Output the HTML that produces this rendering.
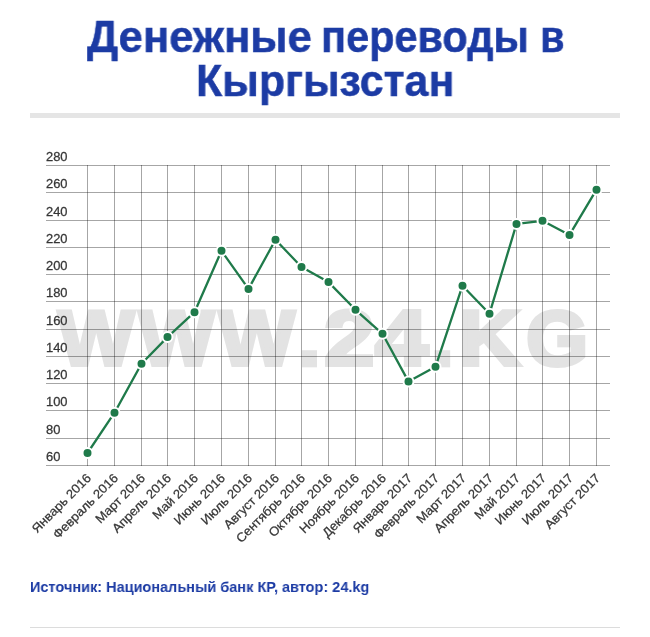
<!DOCTYPE html>
<html><head><meta charset="utf-8">
<style>
html,body{margin:0;padding:0;background:#fff;}
body{width:650px;height:637px;position:relative;overflow:hidden;font-family:"Liberation Sans",sans-serif;}
.w{position:absolute;color:#1c3ba4;font-weight:bold;font-size:45px;line-height:45px;white-space:nowrap;-webkit-text-stroke:0.5px #1c3ba4;transform-origin:0 0;will-change:transform;}
#bar{position:absolute;left:30px;top:113px;width:590px;height:5px;background:#e5e5e5;}
#src{position:absolute;left:29.5px;top:578px;color:#1c3ba4;font-weight:bold;font-size:15.4px;line-height:18px;white-space:nowrap;transform:scaleX(0.942);transform-origin:0 0;}
#bl{position:absolute;left:30px;top:627px;width:590px;height:1px;background:#dcdcdc;}
svg{position:absolute;left:0;top:0;will-change:transform;}
#src{will-change:transform;}
svg text{font-family:"Liberation Sans",sans-serif;}
</style></head><body>
<div class="w" style="left:86.6px;top:14px;transform:scaleX(0.9700)">Денежные</div>
<div class="w" style="left:321.41px;top:14px;transform:scaleX(0.9208)">переводы</div>
<div class="w" style="left:539.6px;top:14px;transform:scaleX(0.8900)">в</div>
<div class="w" style="left:196.3px;top:58px;transform:scaleX(0.9530)">Кыргызстан</div>
<div id="bar"></div>
<svg width="650" height="637" viewBox="0 0 650 637">
<text transform="translate(58.20,365) scale(1.046,1)" font-weight="bold" font-size="77" fill="#e3e3e3" stroke="#e3e3e3" stroke-width="4" stroke-linejoin="miter" stroke-miterlimit="3">W</text>
<text transform="translate(139.00,365) scale(1.035,1)" font-weight="bold" font-size="77" fill="#e3e3e3" stroke="#e3e3e3" stroke-width="4" stroke-linejoin="miter" stroke-miterlimit="3">W</text>
<text transform="translate(219.00,365) scale(1.042,1)" font-weight="bold" font-size="77" fill="#e3e3e3" stroke="#e3e3e3" stroke-width="4" stroke-linejoin="miter" stroke-miterlimit="3">W</text>
<text transform="translate(298.65,365) scale(1.009,1.09)" font-weight="bold" font-size="77" fill="#e3e3e3" stroke="#e3e3e3" stroke-width="4" stroke-linejoin="miter" stroke-miterlimit="3">.</text>
<text transform="translate(324.30,365) scale(1.168,1.0)" font-weight="bold" font-size="77" fill="#e3e3e3" stroke="#e3e3e3" stroke-width="4" stroke-linejoin="miter" stroke-miterlimit="3">2</text>
<text transform="translate(375.27,365) scale(1.232,1)" font-weight="bold" font-size="77" fill="#e3e3e3" stroke="#e3e3e3" stroke-width="4" stroke-linejoin="miter" stroke-miterlimit="3">4</text>
<text transform="translate(431.27,365) scale(1.045,1.09)" font-weight="bold" font-size="77" fill="#e3e3e3" stroke="#e3e3e3" stroke-width="4" stroke-linejoin="miter" stroke-miterlimit="3">.</text>
<text transform="translate(459.22,365) scale(1.096,1)" font-weight="bold" font-size="77" fill="#e3e3e3" stroke="#e3e3e3" stroke-width="4" stroke-linejoin="miter" stroke-miterlimit="3">K</text>
<text transform="translate(526.20,365) scale(1.033,1.0)" font-weight="bold" font-size="77" fill="#e3e3e3" stroke="#e3e3e3" stroke-width="4" stroke-linejoin="miter" stroke-miterlimit="3">G</text>
<line x1="46" x2="610" y1="165.5" y2="165.5" stroke="rgba(0,0,0,0.35)" stroke-width="1"/>
<line x1="46" x2="610" y1="192.5" y2="192.5" stroke="rgba(0,0,0,0.35)" stroke-width="1"/>
<line x1="46" x2="610" y1="220.5" y2="220.5" stroke="rgba(0,0,0,0.35)" stroke-width="1"/>
<line x1="46" x2="610" y1="247.5" y2="247.5" stroke="rgba(0,0,0,0.35)" stroke-width="1"/>
<line x1="46" x2="610" y1="274.5" y2="274.5" stroke="rgba(0,0,0,0.35)" stroke-width="1"/>
<line x1="46" x2="610" y1="301.5" y2="301.5" stroke="rgba(0,0,0,0.35)" stroke-width="1"/>
<line x1="46" x2="610" y1="329.5" y2="329.5" stroke="rgba(0,0,0,0.35)" stroke-width="1"/>
<line x1="46" x2="610" y1="356.5" y2="356.5" stroke="rgba(0,0,0,0.35)" stroke-width="1"/>
<line x1="46" x2="610" y1="383.5" y2="383.5" stroke="rgba(0,0,0,0.35)" stroke-width="1"/>
<line x1="46" x2="610" y1="410.5" y2="410.5" stroke="rgba(0,0,0,0.35)" stroke-width="1"/>
<line x1="46" x2="610" y1="438.5" y2="438.5" stroke="rgba(0,0,0,0.35)" stroke-width="1"/>
<line x1="46" x2="610" y1="465.5" y2="465.5" stroke="rgba(0,0,0,0.35)" stroke-width="1"/>
<line x1="87.5" x2="87.5" y1="165.0" y2="466.0" stroke="rgba(0,0,0,0.35)" stroke-width="1"/>
<line x1="114.5" x2="114.5" y1="165.0" y2="466.0" stroke="rgba(0,0,0,0.35)" stroke-width="1"/>
<line x1="141.5" x2="141.5" y1="165.0" y2="466.0" stroke="rgba(0,0,0,0.35)" stroke-width="1"/>
<line x1="167.5" x2="167.5" y1="165.0" y2="466.0" stroke="rgba(0,0,0,0.35)" stroke-width="1"/>
<line x1="194.5" x2="194.5" y1="165.0" y2="466.0" stroke="rgba(0,0,0,0.35)" stroke-width="1"/>
<line x1="221.5" x2="221.5" y1="165.0" y2="466.0" stroke="rgba(0,0,0,0.35)" stroke-width="1"/>
<line x1="248.5" x2="248.5" y1="165.0" y2="466.0" stroke="rgba(0,0,0,0.35)" stroke-width="1"/>
<line x1="275.5" x2="275.5" y1="165.0" y2="466.0" stroke="rgba(0,0,0,0.35)" stroke-width="1"/>
<line x1="301.5" x2="301.5" y1="165.0" y2="466.0" stroke="rgba(0,0,0,0.35)" stroke-width="1"/>
<line x1="328.5" x2="328.5" y1="165.0" y2="466.0" stroke="rgba(0,0,0,0.35)" stroke-width="1"/>
<line x1="355.5" x2="355.5" y1="165.0" y2="466.0" stroke="rgba(0,0,0,0.35)" stroke-width="1"/>
<line x1="382.5" x2="382.5" y1="165.0" y2="466.0" stroke="rgba(0,0,0,0.35)" stroke-width="1"/>
<line x1="408.5" x2="408.5" y1="165.0" y2="466.0" stroke="rgba(0,0,0,0.35)" stroke-width="1"/>
<line x1="435.5" x2="435.5" y1="165.0" y2="466.0" stroke="rgba(0,0,0,0.35)" stroke-width="1"/>
<line x1="462.5" x2="462.5" y1="165.0" y2="466.0" stroke="rgba(0,0,0,0.35)" stroke-width="1"/>
<line x1="489.5" x2="489.5" y1="165.0" y2="466.0" stroke="rgba(0,0,0,0.35)" stroke-width="1"/>
<line x1="516.5" x2="516.5" y1="165.0" y2="466.0" stroke="rgba(0,0,0,0.35)" stroke-width="1"/>
<line x1="542.5" x2="542.5" y1="165.0" y2="466.0" stroke="rgba(0,0,0,0.35)" stroke-width="1"/>
<line x1="569.5" x2="569.5" y1="165.0" y2="466.0" stroke="rgba(0,0,0,0.35)" stroke-width="1"/>
<line x1="596.5" x2="596.5" y1="165.0" y2="466.0" stroke="rgba(0,0,0,0.35)" stroke-width="1"/>
<text transform="translate(46,160.8) scale(1.06,1)" font-size="12.2" fill="#363636" stroke="#363636" stroke-width="0.25">280</text>
<text transform="translate(46,187.8) scale(1.06,1)" font-size="12.2" fill="#363636" stroke="#363636" stroke-width="0.25">260</text>
<text transform="translate(46,215.8) scale(1.06,1)" font-size="12.2" fill="#363636" stroke="#363636" stroke-width="0.25">240</text>
<text transform="translate(46,242.8) scale(1.06,1)" font-size="12.2" fill="#363636" stroke="#363636" stroke-width="0.25">220</text>
<text transform="translate(46,269.8) scale(1.06,1)" font-size="12.2" fill="#363636" stroke="#363636" stroke-width="0.25">200</text>
<text transform="translate(46,296.8) scale(1.06,1)" font-size="12.2" fill="#363636" stroke="#363636" stroke-width="0.25">180</text>
<text transform="translate(46,324.8) scale(1.06,1)" font-size="12.2" fill="#363636" stroke="#363636" stroke-width="0.25">160</text>
<text transform="translate(46,351.8) scale(1.06,1)" font-size="12.2" fill="#363636" stroke="#363636" stroke-width="0.25">140</text>
<text transform="translate(46,378.8) scale(1.06,1)" font-size="12.2" fill="#363636" stroke="#363636" stroke-width="0.25">120</text>
<text transform="translate(46,405.8) scale(1.06,1)" font-size="12.2" fill="#363636" stroke="#363636" stroke-width="0.25">100</text>
<text transform="translate(46,433.8) scale(1.06,1)" font-size="12.2" fill="#363636" stroke="#363636" stroke-width="0.25">80</text>
<text transform="translate(46,460.8) scale(1.06,1)" font-size="12.2" fill="#363636" stroke="#363636" stroke-width="0.25">60</text>
<text transform="translate(91.8,478.8) rotate(-45) scale(1.04,1)" text-anchor="end" font-size="12.6" fill="#363636" stroke="#363636" stroke-width="0.25">Январь 2016</text>
<text transform="translate(118.8,478.8) rotate(-45) scale(1.04,1)" text-anchor="end" font-size="12.6" fill="#363636" stroke="#363636" stroke-width="0.25">Февраль 2016</text>
<text transform="translate(145.8,478.8) rotate(-45) scale(1.04,1)" text-anchor="end" font-size="12.6" fill="#363636" stroke="#363636" stroke-width="0.25">Март 2016</text>
<text transform="translate(171.8,478.8) rotate(-45) scale(1.04,1)" text-anchor="end" font-size="12.6" fill="#363636" stroke="#363636" stroke-width="0.25">Апрель 2016</text>
<text transform="translate(198.8,478.8) rotate(-45) scale(1.04,1)" text-anchor="end" font-size="12.6" fill="#363636" stroke="#363636" stroke-width="0.25">Май 2016</text>
<text transform="translate(225.8,478.8) rotate(-45) scale(1.04,1)" text-anchor="end" font-size="12.6" fill="#363636" stroke="#363636" stroke-width="0.25">Июнь 2016</text>
<text transform="translate(252.8,478.8) rotate(-45) scale(1.04,1)" text-anchor="end" font-size="12.6" fill="#363636" stroke="#363636" stroke-width="0.25">Июль 2016</text>
<text transform="translate(279.8,478.8) rotate(-45) scale(1.04,1)" text-anchor="end" font-size="12.6" fill="#363636" stroke="#363636" stroke-width="0.25">Август 2016</text>
<text transform="translate(305.8,478.8) rotate(-45) scale(1.04,1)" text-anchor="end" font-size="12.6" fill="#363636" stroke="#363636" stroke-width="0.25">Сентябрь 2016</text>
<text transform="translate(332.8,478.8) rotate(-45) scale(1.04,1)" text-anchor="end" font-size="12.6" fill="#363636" stroke="#363636" stroke-width="0.25">Октябрь 2016</text>
<text transform="translate(359.8,478.8) rotate(-45) scale(1.04,1)" text-anchor="end" font-size="12.6" fill="#363636" stroke="#363636" stroke-width="0.25">Ноябрь 2016</text>
<text transform="translate(386.8,478.8) rotate(-45) scale(1.04,1)" text-anchor="end" font-size="12.6" fill="#363636" stroke="#363636" stroke-width="0.25">Декабрь 2016</text>
<text transform="translate(412.8,478.8) rotate(-45) scale(1.04,1)" text-anchor="end" font-size="12.6" fill="#363636" stroke="#363636" stroke-width="0.25">Январь 2017</text>
<text transform="translate(439.8,478.8) rotate(-45) scale(1.04,1)" text-anchor="end" font-size="12.6" fill="#363636" stroke="#363636" stroke-width="0.25">Февраль 2017</text>
<text transform="translate(466.8,478.8) rotate(-45) scale(1.04,1)" text-anchor="end" font-size="12.6" fill="#363636" stroke="#363636" stroke-width="0.25">Март 2017</text>
<text transform="translate(493.8,478.8) rotate(-45) scale(1.04,1)" text-anchor="end" font-size="12.6" fill="#363636" stroke="#363636" stroke-width="0.25">Апрель 2017</text>
<text transform="translate(520.8,478.8) rotate(-45) scale(1.04,1)" text-anchor="end" font-size="12.6" fill="#363636" stroke="#363636" stroke-width="0.25">Май 2017</text>
<text transform="translate(546.8,478.8) rotate(-45) scale(1.04,1)" text-anchor="end" font-size="12.6" fill="#363636" stroke="#363636" stroke-width="0.25">Июнь 2017</text>
<text transform="translate(573.8,478.8) rotate(-45) scale(1.04,1)" text-anchor="end" font-size="12.6" fill="#363636" stroke="#363636" stroke-width="0.25">Июль 2017</text>
<text transform="translate(600.8,478.8) rotate(-45) scale(1.04,1)" text-anchor="end" font-size="12.6" fill="#363636" stroke="#363636" stroke-width="0.25">Август 2017</text>
<polyline points="87.5,453.0 114.5,412.7 141.5,363.8 167.5,337.1 194.5,312.2 221.5,250.8 248.5,288.9 275.5,239.8 301.5,267.0 328.5,282.1 355.5,309.8 382.5,333.8 408.5,381.6 435.5,366.8 462.5,285.7 489.5,313.7 516.5,223.9 542.5,220.8 569.5,234.9 596.5,189.7" fill="none" stroke="#1f7a4a" stroke-width="2.3" stroke-linejoin="round"/>
<circle cx="87.5" cy="453.0" r="5" fill="#1f7a4a" stroke="#fff" stroke-width="2"/>
<circle cx="114.5" cy="412.7" r="5" fill="#1f7a4a" stroke="#fff" stroke-width="2"/>
<circle cx="141.5" cy="363.8" r="5" fill="#1f7a4a" stroke="#fff" stroke-width="2"/>
<circle cx="167.5" cy="337.1" r="5" fill="#1f7a4a" stroke="#fff" stroke-width="2"/>
<circle cx="194.5" cy="312.2" r="5" fill="#1f7a4a" stroke="#fff" stroke-width="2"/>
<circle cx="221.5" cy="250.8" r="5" fill="#1f7a4a" stroke="#fff" stroke-width="2"/>
<circle cx="248.5" cy="288.9" r="5" fill="#1f7a4a" stroke="#fff" stroke-width="2"/>
<circle cx="275.5" cy="239.8" r="5" fill="#1f7a4a" stroke="#fff" stroke-width="2"/>
<circle cx="301.5" cy="267.0" r="5" fill="#1f7a4a" stroke="#fff" stroke-width="2"/>
<circle cx="328.5" cy="282.1" r="5" fill="#1f7a4a" stroke="#fff" stroke-width="2"/>
<circle cx="355.5" cy="309.8" r="5" fill="#1f7a4a" stroke="#fff" stroke-width="2"/>
<circle cx="382.5" cy="333.8" r="5" fill="#1f7a4a" stroke="#fff" stroke-width="2"/>
<circle cx="408.5" cy="381.6" r="5" fill="#1f7a4a" stroke="#fff" stroke-width="2"/>
<circle cx="435.5" cy="366.8" r="5" fill="#1f7a4a" stroke="#fff" stroke-width="2"/>
<circle cx="462.5" cy="285.7" r="5" fill="#1f7a4a" stroke="#fff" stroke-width="2"/>
<circle cx="489.5" cy="313.7" r="5" fill="#1f7a4a" stroke="#fff" stroke-width="2"/>
<circle cx="516.5" cy="223.9" r="5" fill="#1f7a4a" stroke="#fff" stroke-width="2"/>
<circle cx="542.5" cy="220.8" r="5" fill="#1f7a4a" stroke="#fff" stroke-width="2"/>
<circle cx="569.5" cy="234.9" r="5" fill="#1f7a4a" stroke="#fff" stroke-width="2"/>
<circle cx="596.5" cy="189.7" r="5" fill="#1f7a4a" stroke="#fff" stroke-width="2"/>
</svg>
<div id="src">Источник: Национальный банк КР, автор: 24.kg</div>
<div id="bl"></div>
</body></html>
